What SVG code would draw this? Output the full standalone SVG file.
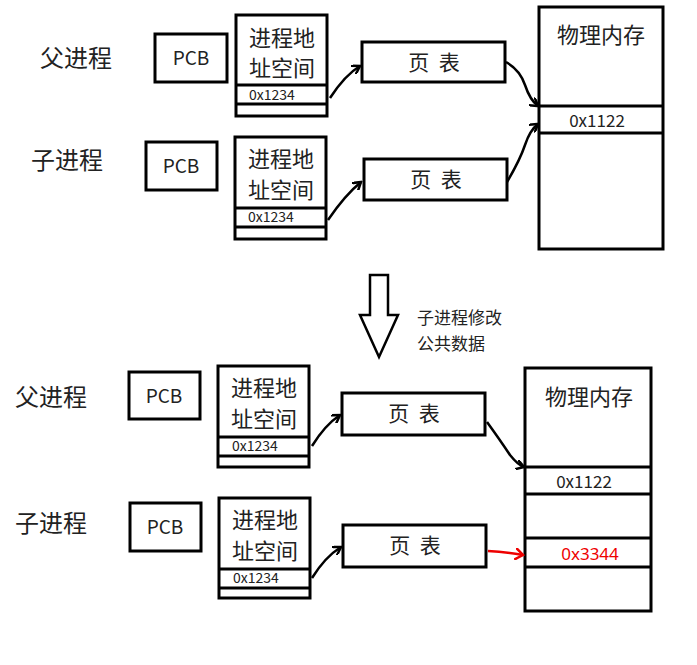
<svg xmlns="http://www.w3.org/2000/svg" width="697" height="665" viewBox="0 0 697 665">
<style>
.b{fill:#fff;stroke:#000;stroke-width:3}
.l{stroke:#000;stroke-width:3}
.t{font-family:"Noto Sans CJK SC","Noto Sans",sans-serif;fill:#222}
.c{stroke:#000;stroke-width:2.5;fill:none}
</style>
<defs>
<marker id="a" markerWidth="10" markerHeight="10" refX="8" refY="5" orient="auto" markerUnits="userSpaceOnUse"><path d="M0,0 L8,5 L0,10" fill="none" stroke="#000" stroke-width="2.5"/></marker>
<marker id="r" markerWidth="10" markerHeight="12" refX="8" refY="6" orient="auto" markerUnits="userSpaceOnUse"><path d="M0,0 L8,6 L0,12" fill="none" stroke="#e00" stroke-width="2.5"/></marker>
</defs>
<rect width="697" height="665" fill="#fff"/>
<text class="t" x="40" y="67" font-size="24">父进程</text>
<text class="t" x="31" y="169" font-size="24">子进程</text>
<text class="t" x="15" y="406" font-size="24">父进程</text>
<text class="t" x="15" y="532" font-size="24">子进程</text>
<g id="pcb1"><rect class="b" x="155" y="34" width="72" height="48"/><text class="t" x="191" y="65" font-size="19" text-anchor="middle">PCB</text></g>
<g id="pcb2"><rect class="b" x="146" y="142" width="71" height="48"/><text class="t" x="181" y="173" font-size="19" text-anchor="middle">PCB</text></g>
<g id="pcb3"><rect class="b" x="129" y="372" width="71" height="47"/><text class="t" x="164" y="403" font-size="19" text-anchor="middle">PCB</text></g>
<g id="pcb4"><rect class="b" x="130" y="503" width="71" height="48"/><text class="t" x="165" y="534" font-size="19" text-anchor="middle">PCB</text></g>
<g id="as1"><rect class="b" x="236" y="15" width="91" height="101"/><line class="l" x1="236" y1="85" x2="327" y2="85"/><line class="l" x1="236" y1="104" x2="327" y2="104"/><text class="t" x="282" y="46" font-size="22" text-anchor="middle">进程地</text><text class="t" x="282" y="76" font-size="22" text-anchor="middle">址空间</text><text class="t" x="249" y="100" font-size="14">0x1234</text></g>
<g id="as2"><rect class="b" x="235" y="137" width="91" height="102"/><line class="l" x1="235" y1="208" x2="326" y2="208"/><line class="l" x1="235" y1="227" x2="326" y2="227"/><text class="t" x="281" y="167" font-size="22" text-anchor="middle">进程地</text><text class="t" x="281" y="198" font-size="22" text-anchor="middle">址空间</text><text class="t" x="248" y="222" font-size="14">0x1234</text></g>
<g id="as3"><rect class="b" x="218" y="366" width="91" height="101"/><line class="l" x1="218" y1="437" x2="309" y2="437"/><line class="l" x1="218" y1="456" x2="309" y2="456"/><text class="t" x="264" y="396" font-size="22" text-anchor="middle">进程地</text><text class="t" x="264" y="427" font-size="22" text-anchor="middle">址空间</text><text class="t" x="232" y="451" font-size="14">0x1234</text></g>
<g id="as4"><rect class="b" x="219" y="498" width="91" height="100"/><line class="l" x1="219" y1="569" x2="310" y2="569"/><line class="l" x1="219" y1="588" x2="310" y2="588"/><text class="t" x="265" y="528" font-size="22" text-anchor="middle">进程地</text><text class="t" x="265" y="559" font-size="22" text-anchor="middle">址空间</text><text class="t" x="233" y="583" font-size="14">0x1234</text></g>
<g id="pt1"><rect class="b" x="362" y="42" width="143" height="40"/><text class="t" x="434" y="70" font-size="21" text-anchor="middle">页&#160;&#160;表</text></g>
<g id="pt2"><rect class="b" x="364" y="159" width="143" height="41"/><text class="t" x="436" y="187" font-size="21" text-anchor="middle">页&#160;&#160;表</text></g>
<g id="pt3"><rect class="b" x="342" y="393" width="143" height="42"/><text class="t" x="414" y="421" font-size="21" text-anchor="middle">页&#160;&#160;表</text></g>
<g id="pt4"><rect class="b" x="343" y="525" width="143" height="42"/><text class="t" x="415" y="553" font-size="21" text-anchor="middle">页&#160;&#160;表</text></g>
<g id="mem1"><rect class="b" x="539" y="7" width="124" height="242"/><line class="l" x1="539" y1="106" x2="663" y2="106"/><line class="l" x1="539" y1="133" x2="663" y2="133"/><text class="t" x="601" y="43" font-size="22" text-anchor="middle">物理内存</text><text class="t" x="597" y="127" font-size="17" text-anchor="middle">0x1122</text></g>
<g id="mem2"><rect class="b" x="525" y="368" width="126" height="243"/><line class="l" x1="525" y1="467" x2="651" y2="467"/><line class="l" x1="525" y1="494" x2="651" y2="494"/><line class="l" x1="525" y1="538" x2="651" y2="538"/><line class="l" x1="525" y1="567" x2="651" y2="567"/><text class="t" x="589" y="405" font-size="22" text-anchor="middle">物理内存</text><text class="t" x="584" y="488" font-size="17" text-anchor="middle">0x1122</text><text x="590" y="560" font-size="17" text-anchor="middle" font-family="Noto Sans,sans-serif" fill="#e00">0x3344</text></g>
<g id="down"><path d="M370,275 H388 V315 H398 L379,357 L360,315 H370 Z" fill="#fff" stroke="#000" stroke-width="2.5"/><text class="t" x="417" y="324" font-size="17">子进程修改</text><text class="t" x="417" y="350" font-size="17">公共数据</text></g>
<g id="connectors">
<path class="c" d="M330,98 Q345,75 360,66" marker-end="url(#a)"/>
<path class="c" d="M506,62 Q520,70 525,85 Q530,100 538,106" marker-end="url(#a)"/>
<path class="c" d="M507,182 Q520,160 525,145 Q530,130 538,124" marker-end="url(#a)"/>
<path class="c" d="M328,220 Q345,195 361,182" marker-end="url(#a)"/>
<path class="c" d="M312,446 Q325,425 340,415" marker-end="url(#a)"/>
<path class="c" d="M487,422 Q500,440 510,455 Q518,465 524,467" marker-end="url(#a)"/>
<path class="c" d="M312,578 Q325,557 341,547" marker-end="url(#a)"/>
<path d="M488,551 Q505,552 523,555" fill="none" stroke="#e00" stroke-width="2.5" marker-end="url(#r)"/>
</g>
</svg>
